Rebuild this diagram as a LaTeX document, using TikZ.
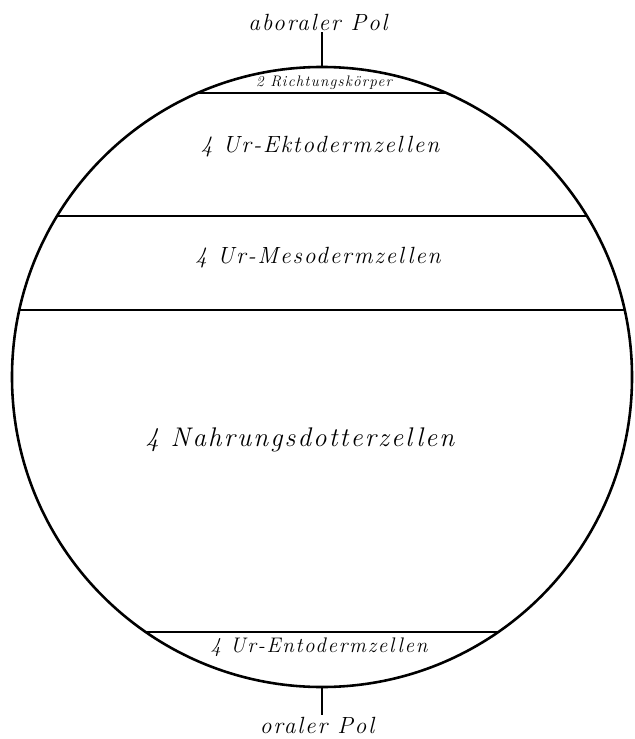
\documentclass[tikz,border=0pt]{standalone}
\usepackage{fontspec}
\newfontfamily\engr[LetterSpace=8]{Latin Modern Roman}
\usepackage{tikz}

\tikzset{
  pol/.style={font=\engr\itshape\fontsize{20}{20}\selectfont, inner sep=1pt},
  zone/.style={font=\engr\itshape\fontsize{20}{20}\selectfont},
  cut/.style={line width=1.6pt},
}

\begin{document}
\begin{tikzpicture}[x=0.03cm, y=-0.03cm]
    \useasboundingbox (0,0) rectangle (634,739);

    % Egg outline
    \node (egg) [draw, circle, line width=2.2pt, minimum size=18.6cm, inner sep=0pt] at (322,377) {};

    % Pole labels
    \node (abpol) [pol] at (318,22) {aboraler Pol};
    \node (orpol) [pol] at (317,725) {oraler Pol};
    \draw[line width=2pt] (egg.north) -- (egg.north |- abpol.south);
    \draw[line width=2pt] (egg.south) -- (egg.south |- orpol.north);

    % Cell layers
    \begin{scope}
        \clip (egg.center) circle[radius=9.3cm];
        \draw[cut] (0,93) -- (634,93);
        \draw[cut] (0,216) -- (634,216);
        \draw[cut] (0,310) -- (634,310);
        \draw[cut] (0,632) -- (634,632);
    \end{scope}

    \node (richt) [font=\engr\itshape\fontsize{13}{13}\selectfont] at (324,83) {2 Richtungskörper};
    \node (ekto) [zone] at (320,147) {4 Ur-Ektodermzellen};
    \node (meso) [zone] at (318,258) {4 Ur-Mesodermzellen};
    \node (dotter) [zone, font=\engr\itshape\fontsize{23}{23}\selectfont] at (300,440) {4 Nahrungsdotterzellen};
    \node (ento) [zone, font=\engr\itshape\fontsize{18}{18}\selectfont] at (319,647) {4 Ur-Entodermzellen};

\end{tikzpicture}
\end{document}
